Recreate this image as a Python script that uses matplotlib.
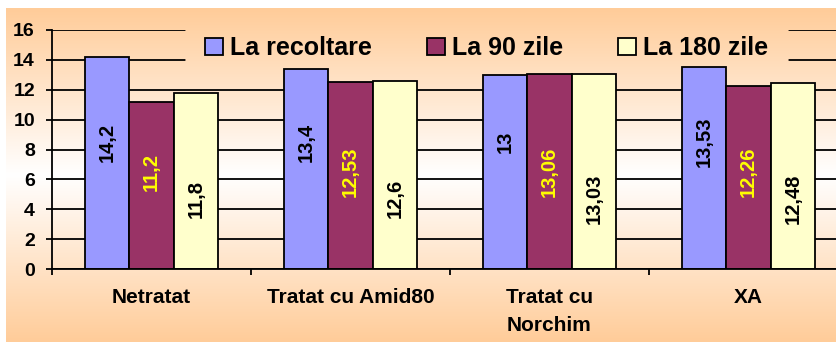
import numpy as np
import matplotlib.pyplot as plt
from matplotlib.colors import to_rgb

plt.rcParams['font.family'] = ['Liberation Sans', 'DejaVu Sans']
plt.rcParams['font.weight'] = 'bold'

# Data
categories = ['Netratat', 'Tratat cu Amid80', 'Tratat cu\nNorchim', 'XA']
series_names = ['La recoltare', 'La 90 zile', 'La 180 zile']
la_recoltare = [14.2, 13.4, 13.0, 13.53]
la_90_zile = [11.2, 12.53, 13.06, 12.26]
la_180_zile = [11.8, 12.6, 13.03, 12.48]
y_ticks = [0, 2, 4, 6, 8, 10, 12, 14, 16]

# Style
bar_colors = ['#9999FF', '#993366', '#FFFFCC']
text_colors = ['black', '#FFFF00', 'black']
label_centers = [8.5, 6.5, 4.7]     # vertical position of the value labels per series
bar_width = 0.2236
edge_peach = '#FFCC99'


def gradient_image(n=400):
    """Peach -> white -> peach vertical gradient (RGB array)."""
    t = np.abs(np.linspace(-1, 1, n))[:, None]
    edge = np.array(to_rgb(edge_peach))
    img = 1.0 + (edge - 1.0) * t
    return np.repeat(img[:, None, :], 2, axis=1)


W, H = 837, 342
fig = plt.figure(figsize=(W / 100, H / 100), dpi=100)
grad = gradient_image()
grad_extent = (6 / W, 1.0, 0.0, 1 - 8 / H)

# background gradient over the whole chart area
bg = fig.add_axes([0, 0, 1, 1], zorder=-1)
bg.imshow(grad, extent=grad_extent, aspect='auto', interpolation='bilinear')
bg.set_xlim(0, 1)
bg.set_ylim(0, 1)
bg.axis('off')

ax = fig.add_axes([52 / W, (H - 269) / H, 796 / W, (269 - 30) / H])
ax.set_facecolor('none')

series = [la_recoltare, la_90_zile, la_180_zile]
x = np.arange(len(categories))
bars = []
for j, vals in enumerate(series):
    b = ax.bar(x + (j - 1) * bar_width, vals, bar_width, color=bar_colors[j],
               edgecolor='black', linewidth=1.3, label=series_names[j], zorder=1)
    bars.append(b)
    for xi, v in zip(x, vals):
        ax.text(xi + (j - 1) * bar_width, label_centers[j], f'{v:g}'.replace('.', ','),
                rotation=90, ha='center', va='center', fontsize=14.5,
                fontweight='bold', color=text_colors[j], zorder=3)

# Axes styling
ax.set_ylim(0, 16)
ax.set_xlim(-0.5, len(categories) - 0.5)
ax.set_yticks(y_ticks)
ax.set_yticklabels([str(t) for t in y_ticks], fontsize=14, fontweight='bold')
ax.tick_params(axis='y', length=4.3, width=1.3, pad=8, color='black')
ax.set_xticks(np.arange(-0.5, len(categories)), labels=[''] * (len(categories) + 1))
ax.tick_params(axis='x', which='major', length=4.3, width=1.3, direction='out')
ax.set_xticks(x, labels=categories, minor=True)
ax.tick_params(axis='x', which='minor', length=0, pad=14, labelsize=15)
for lbl in ax.get_xticklabels(minor=True):
    lbl.set_fontweight('bold')
    lbl.set_linespacing(1.6)

ax.yaxis.grid(True, color='black', linewidth=1.3)
ax.set_axisbelow(True)
for side in ['top', 'right']:
    ax.spines[side].set_visible(False)
for side in ['left', 'bottom']:
    ax.spines[side].set_linewidth(1.3)

leg = ax.legend(loc='center', bbox_to_anchor=(487 / W, 1 - 48 / H),
                bbox_transform=fig.transFigure, ncol=3, frameon=False,
                prop={'size': 18, 'weight': 'bold'}, handlelength=0.7,
                handleheight=0.7, handletextpad=0.3, columnspacing=2.2,
                borderpad=0.8)

# the legend box hides the gridlines behind it
cover = ax.imshow(grad, extent=grad_extent, transform=fig.transFigure,
                  aspect='auto', interpolation='bilinear', zorder=0.7)
cover.set_clip_path(leg.legendPatch)
ax.set_ylim(0, 16)
ax.set_xlim(-0.5, len(categories) - 0.5)

fig.canvas.draw()
fig.savefig('out.png', dpi=100)
